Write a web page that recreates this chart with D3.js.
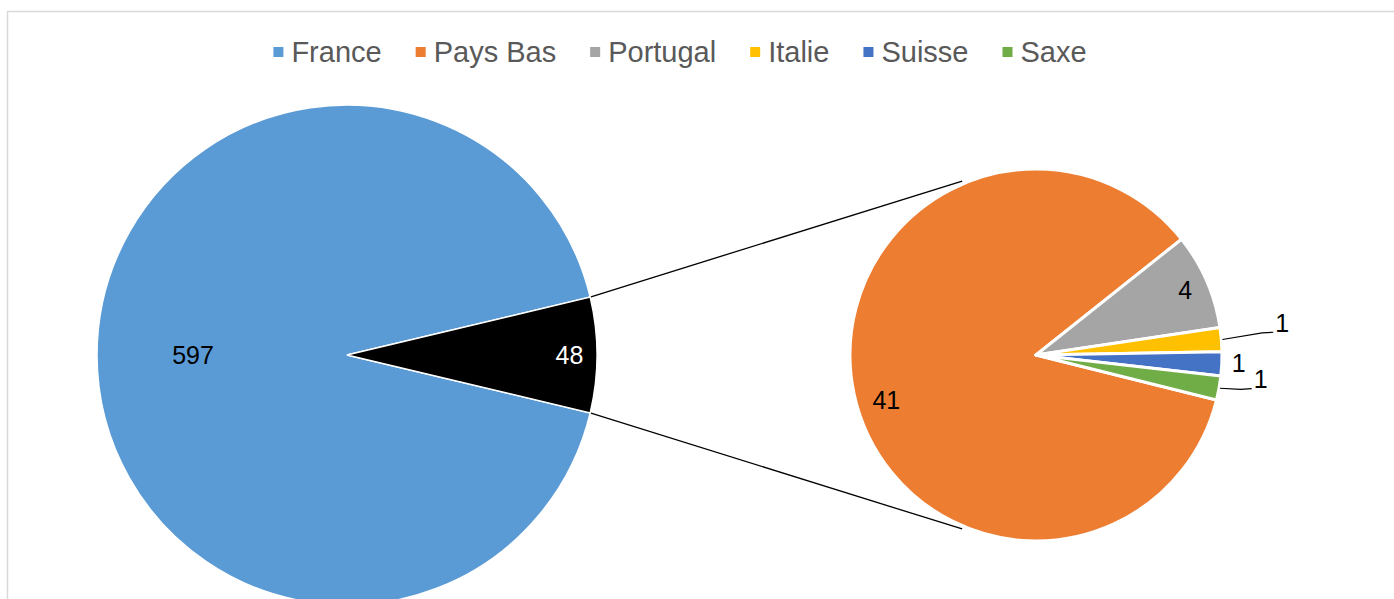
<!DOCTYPE html>
<html>
<head>
<meta charset="utf-8">
<script src="https://cdn.jsdelivr.net/npm/d3@7"></script>
<style>
  html, body { margin: 0; padding: 0; background: #fff; }
  svg { display: block; }
  text { font-family: "Liberation Sans", Arial, sans-serif; }
</style>
</head>
<body>
<svg id="chart" width="1394" height="599"></svg>
<script>
// ---- data ----
const categories = ["France", "Pays Bas", "Portugal", "Italie", "Suisse", "Saxe"];
const values = [597, 41, 4, 1, 1, 1];
const colors = ["#5B9BD5", "#ED7D31", "#A5A5A5", "#FFC000", "#4472C4", "#70AD47"];
const otherLabel = "Autres";
const otherColor = "#000000";

// ---- layout ----
const W = 1394, H = 599;
const svg = d3.select("#chart");
const deg = Math.PI / 180;

// border
svg.append("rect").attr("x", 7.5).attr("y", 11.5).attr("width", W + 20).attr("height", H + 20)
  .attr("fill", "none").attr("stroke", "#d9d9d9").attr("stroke-width", 1.5);

const main = { cx: 347, cy: 355, r: 250 };
const sec = { cx: 1036, cy: 355, r: 186 };

const mainData = [
  { name: categories[0], value: values[0], color: colors[0] },
  { name: otherLabel, value: d3.sum(values.slice(1)), color: otherColor }
];
const secData = categories.slice(1).map((c, i) => ({ name: c, value: values[i + 1], color: colors[i + 1] }));

const total = d3.sum(mainData, d => d.value);
const otherSpan = mainData[1].value / total * 2 * Math.PI;
// other slice centred on east (d3 angle 90deg)
const mainStart = 90 * deg + otherSpan / 2;
const mainPie = d3.pie().sort(null).value(d => d.value)
  .startAngle(mainStart).endAngle(mainStart + 2 * Math.PI);
const mainArcs = mainPie(mainData);

const secStart = 104 * deg;
const secPie = d3.pie().sort(null).value(d => d.value)
  .startAngle(secStart).endAngle(secStart + 2 * Math.PI);
const secArcs = secPie(secData);

const arcMain = d3.arc().innerRadius(0).outerRadius(main.r);
const arcSec = d3.arc().innerRadius(0).outerRadius(sec.r);

// polar helper (d3 angle: 0 = up, clockwise)
const polar = (c, a, r) => [c.cx + r * Math.sin(a), c.cy - r * Math.cos(a)];

// connector lines
const oa = mainArcs[1];
const connAngle = 23 * deg; // offset from vertical on second pie
const c1 = [polar(main, oa.startAngle, main.r), polar(sec, -connAngle, sec.r + 3)];
const c2 = [polar(main, oa.endAngle, main.r), polar(sec, Math.PI + connAngle, sec.r + 3)];
svg.append("g").selectAll("line").data([c1, c2]).join("line")
  .attr("x1", d => d[0][0]).attr("y1", d => d[0][1])
  .attr("x2", d => d[1][0]).attr("y2", d => d[1][1])
  .attr("stroke", "#000").attr("stroke-width", 1.3);

// main pie
const gMain = svg.append("g").attr("transform", `translate(${main.cx},${main.cy})`);
gMain.selectAll("path").data(mainArcs).join("path")
  .attr("d", arcMain).attr("fill", d => d.data.color)
  .attr("stroke", "#fff").attr("stroke-width", 1.5);

// second pie
const gSec = svg.append("g").attr("transform", `translate(${sec.cx},${sec.cy})`);
gSec.selectAll("path").data(secArcs).join("path")
  .attr("d", arcSec).attr("fill", d => d.data.color)
  .attr("stroke", "#fff").attr("stroke-width", 3).attr("stroke-linejoin", "round");

// labels
const mid = d => (d.startAngle + d.endAngle) / 2;
const labelFont = 25;
const mainLabelR = [0.616, 0.89];
mainArcs.forEach((d, i) => {
  const p = polar(main, mid(d), main.r * mainLabelR[i]);
  svg.append("text").attr("x", p[0]).attr("y", p[1]).attr("dy", "0.35em")
    .attr("text-anchor", "middle").attr("font-size", labelFont)
    .attr("fill", i === 1 ? "#fff" : "#000").text(d.value);
});

// second pie labels: radius factor, angle nudge (deg), leader
const secLabelLayout = [
  { rf: 0.84, da: -4.5, leader: false },
  { rf: 0.875, da: 0, leader: false },
  { rf: 1.335, da: -2.6, leader: true },
  { rf: 1.09, da: -0.5, leader: false },
  { rf: 1.215, da: -4, leader: true }
];
secArcs.forEach((d, i) => {
  const L = secLabelLayout[i];
  const a = mid(d) + L.da * deg;
  const p = polar(sec, a, sec.r * L.rf);
  svg.append("text").attr("x", p[0]).attr("y", p[1]).attr("dy", "0.35em")
    .attr("text-anchor", "middle").attr("font-size", labelFont)
    .attr("fill", "#000").text(d.value);
  if (L.leader) {
    const s = polar(sec, mid(d), sec.r + 1);
    const e = [p[0] - 9, p[1] + 9];
    const m = [e[0] - 11, e[1] + 0.7];
    svg.append("polyline").attr("points", [s, m, e].map(q => q.join(",")).join(" "))
      .attr("fill", "none").attr("stroke", "#000").attr("stroke-width", 1.2);
  }
});

// legend
const legendFont = 29;
const legend = svg.append("g");
const items = categories.map((c, i) => ({ name: c, color: colors[i] }));
const tmp = svg.append("text").attr("font-size", legendFont);
const widths = items.map(it => { tmp.text(it.name); return tmp.node().getComputedTextLength(); });
tmp.remove();
const mk = 10, gapMT = 8, gapItem = 34;
const totalW = d3.sum(widths) + items.length * (mk + gapMT) + (items.length - 1) * gapItem;
let x = 680 - totalW / 2;
const ly = 52;
items.forEach((it, i) => {
  legend.append("rect").attr("x", x).attr("y", ly - mk / 2).attr("width", mk).attr("height", mk).attr("fill", it.color);
  legend.append("text").attr("x", x + mk + gapMT).attr("y", ly).attr("dy", "0.35em")
    .attr("font-size", legendFont).attr("fill", "#595959").text(it.name);
  x += mk + gapMT + widths[i] + gapItem;
});
</script>
</body>
</html>
